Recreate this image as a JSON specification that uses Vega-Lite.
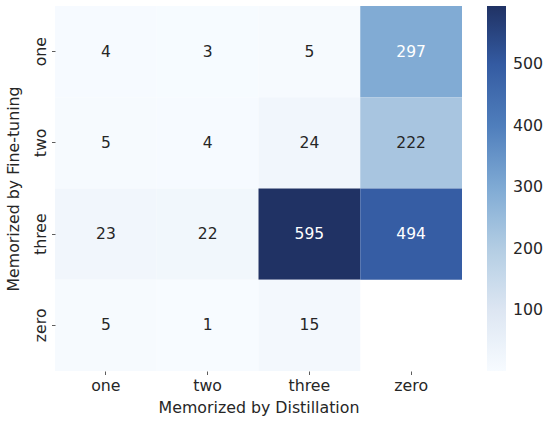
{
  "$schema": "https://vega.github.io/schema/vega-lite/v6.json",
  "width": 407,
  "height": 365,
  "autosize": {"type": "none"},
  "padding": {"left": 55, "top": 6, "right": 88, "bottom": 55},
  "config": {
    "font": "DejaVu Sans",
    "view": {"stroke": null},
    "axis": {"domain": false, "grid": false, "tickColor": "#333333", "tickSize": 3.5, "tickWidth": 0.8, "labelFontSize": 15.8, "titleFontSize": 15.8, "labelColor": "#262626", "titleColor": "#262626", "titleFontWeight": "normal", "labelFont": "DejaVu Sans", "titleFont": "DejaVu Sans"}
  },
  "data": {
    "values": [
      {"fine": "one", "dist": "one", "v": 4},
      {"fine": "one", "dist": "two", "v": 3},
      {"fine": "one", "dist": "three", "v": 5},
      {"fine": "one", "dist": "zero", "v": 297},
      {"fine": "two", "dist": "one", "v": 5},
      {"fine": "two", "dist": "two", "v": 4},
      {"fine": "two", "dist": "three", "v": 24},
      {"fine": "two", "dist": "zero", "v": 222},
      {"fine": "three", "dist": "one", "v": 23},
      {"fine": "three", "dist": "two", "v": 22},
      {"fine": "three", "dist": "three", "v": 595},
      {"fine": "three", "dist": "zero", "v": 494},
      {"fine": "zero", "dist": "one", "v": 5},
      {"fine": "zero", "dist": "two", "v": 1},
      {"fine": "zero", "dist": "three", "v": 15}
    ]
  },
  "encoding": {
    "x": {"field": "dist", "type": "nominal", "sort": ["one", "two", "three", "zero"], "scale": {"domain": ["one", "two", "three", "zero"], "paddingInner": 0, "paddingOuter": 0}, "title": "Memorized by Distillation", "axis": {"labelAngle": 0, "labelPadding": 3.5, "titlePadding": 7.5}},
    "y": {"field": "fine", "type": "nominal", "sort": ["one", "two", "three", "zero"], "scale": {"domain": ["one", "two", "three", "zero"], "paddingInner": 0, "paddingOuter": 0}, "title": "Memorized by Fine-tuning", "axis": {"labelAngle": 270, "labelAlign": "center", "labelBaseline": "alphabetic", "labelPadding": 6.5, "titlePadding": 10.5}}
  },
  "layer": [
    {
      "mark": {"type": "rect"},
      "encoding": {
        "color": {
          "field": "v", "type": "quantitative",
          "scale": {"domain": [1, 100, 200, 300, 400, 500, 595], "range": ["#f7fbff", "#dde6f2", "#b3cde3", "#7faad4", "#4f7ebc", "#345ba2", "#203264"], "interpolate": "rgb"},
          "legend": {"title": null, "orient": "right", "offset": 25, "gradientLength": 365, "gradientThickness": 19, "values": [100, 200, 300, 400, 500], "labelFontSize": 15.8, "labelColor": "#262626", "labelOffset": 7, "padding": 0, "gradientStrokeWidth": 0, "labelFont": "DejaVu Sans"}
        }
      }
    },
    {
      "mark": {"type": "text", "fontSize": 15.5, "baseline": "middle", "align": "center"},
      "encoding": {
        "text": {"field": "v", "type": "quantitative"},
        "color": {"condition": {"test": "datum.v > 250", "value": "#ffffff"}, "value": "#262626"}
      }
    }
  ]
}
